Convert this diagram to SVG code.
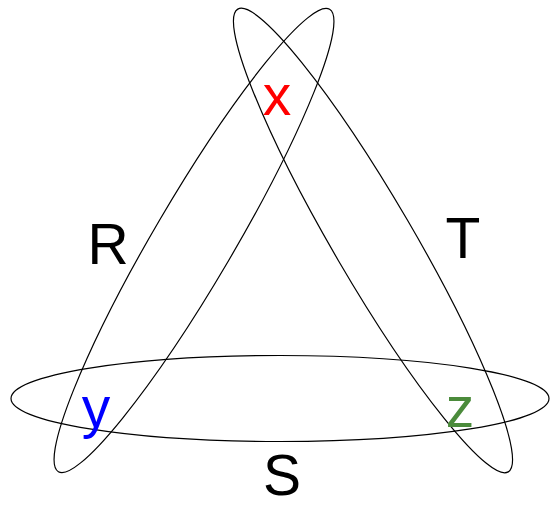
<svg xmlns="http://www.w3.org/2000/svg" width="550" height="505" viewBox="0 0 550 505">
<style>
.set{fill:none;stroke:#000;stroke-width:1.2}
.lbl{font-family:"Liberation Sans",Arial,sans-serif;font-size:57px;text-anchor:middle}
</style>
<rect width="550" height="505" fill="#fff"/>
<g id="connectors"/>
<g id="setR">
<ellipse class="set" cx="194" cy="240.5" rx="268" ry="40" transform="rotate(-59.6 194 240.5)"/>
<text class="lbl" x="108" y="264" fill="#000">R</text>
</g>
<g id="setT">
<ellipse class="set" cx="373" cy="240.5" rx="268" ry="40" transform="rotate(59.7 373 240.5)"/>
<text class="lbl" x="463" y="258" fill="#000">T</text>
</g>
<g id="setS">
<ellipse class="set" cx="280" cy="398.5" rx="269" ry="43"/>
<text class="lbl" x="282" y="495" fill="#000">S</text>
</g>
<g id="elemX"><text class="lbl" x="277" y="115" fill="#ff0000">x</text></g>
<g id="elemY"><text class="lbl" x="96" y="427" fill="#0000ff">y</text></g>
<g id="elemZ"><text class="lbl" x="460" y="427" fill="#4b8b3b">z</text></g>
</svg>
